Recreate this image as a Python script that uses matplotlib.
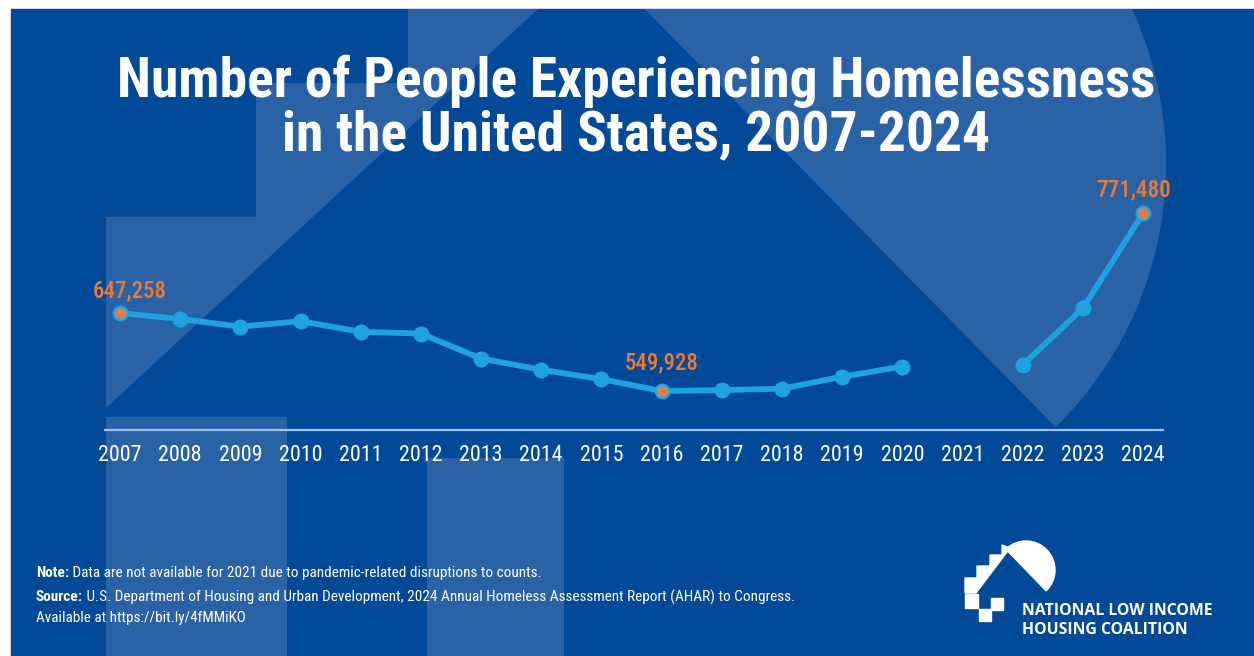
import numpy as np
import matplotlib
matplotlib.use("Agg")
import matplotlib.pyplot as plt
from matplotlib import font_manager
from matplotlib.patches import Rectangle, Polygon, Wedge

# data (AHAR point-in-time counts); 2021 not available
years = [2007, 2008, 2009, 2010, 2011, 2012, 2013, 2014, 2015,
         2016, 2017, 2018, 2019, 2020, 2021, 2022, 2023, 2024]
people = [647258, 639784, 630227, 637077, 623788, 621553, 590364, 576450, 564708,
          549928, 550996, 552830, 567715, 580466, None, 582462, 653104, 771480]
highlight_years = [2007, 2016, 2024]
label_offsets = [(7, 16), (0, 20), (-7, 17)]

title = "Number of People Experiencing Homelessness\nin the United States, 2007-2024"
note_bold = "Note:"
note_text = " Data are not available for 2021 due to pandemic-related disruptions to counts."
source_bold = "Source:"
source_text = (" U.S. Department of Housing and Urban Development, 2024 Annual Homeless "
               "Assessment Report (AHAR) to Congress.")
available_text = "Available at https://bit.ly/4fMMiKO"
logo_lines = ["NATIONAL LOW INCOME", "HOUSING COALITION"]

BG = "#024a98"
LIGHT = "#2a62a6"
LINE = "#1ea2e0"
ORANGE = "#ec7a34"
AXIS = "#9cc3ea"

installed = {f.name for f in font_manager.fontManager.ttflist}
narrow = next((f for f in ["Liberation Sans Narrow", "Roboto Condensed",
                           "Open Sans Condensed", "Roboto"] if f in installed), "DejaVu Sans")
NARROW = [narrow, "DejaVu Sans"]

W, H = 1254, 656
fig = plt.figure(figsize=(W / 100, H / 100), dpi=100, facecolor="white")
renderer = fig.canvas.get_renderer()


def fit(texts, width):
    # scale font size of a group of texts so their summed width matches the reference
    total = sum(t.get_window_extent(renderer).width for t in texts)
    for t in texts:
        t.set_fontsize(t.get_fontsize() * width / total)


# background layer in pixel coordinates
bg = fig.add_axes([0, 0, 1, 1])
bg.set_xlim(0, W)
bg.set_ylim(H, 0)
bg.axis("off")
panel = Rectangle((11, 9), W - 11, H - 9, color=BG, zorder=0)
bg.add_patch(panel)

shapes = [
    Polygon([(106, 408), (106, 217), (256, 217), (256, 83), (408, 83),
             (408, 9), (538, 9)], closed=True),
    Rectangle((106, 417), 181, H - 417),
    Rectangle((427, 458), 137, H - 458),
    Wedge((797, 164), 369, 225.5, 405.5),
]
for s in shapes:
    s.set_facecolor(LIGHT)
    s.set_edgecolor("none")
    s.set_zorder(1)
    bg.add_patch(s)
    s.set_clip_path(panel)

# logo
stairs = Polygon([(965, 593), (965, 578), (977, 578), (977, 566), (990, 566),
                  (990, 555), (1002, 555), (1002, 545), (1010, 548), (976, 593)],
                 closed=True, color="white", zorder=2)
bg.add_patch(stairs)
bg.add_patch(Wedge((1026, 570), 29, 226, 406, color="white", zorder=2))
for (x0, y0, w, h) in [(965, 594, 13, 14), (991, 598, 12, 12), (979, 609, 12, 12)]:
    bg.add_patch(Rectangle((x0, y0), w, h, color="white", zorder=2))
for y, line in zip([611, 630], logo_lines):
    t = bg.text(1022, y, line, color="white", fontsize=10.5, fontweight="bold",
                family=["Open Sans", "DejaVu Sans"], va="center", ha="left")
    fit([t], 193 if line == logo_lines[0] else 168)

# title
tt = bg.text(636, 108, title, color="white", fontsize=34, fontweight="bold",
             family=NARROW, ha="center", va="center", linespacing=1.05)
fit([tt], 1038)

# footer
for y, b, t, w in [(573, note_bold, note_text, 510), (597, source_bold, source_text, 762)]:
    tb = bg.text(36, y, b, color="white", fontsize=10.5, fontweight="bold",
                 family=NARROW, va="center", ha="left")
    tr = bg.text(36, y, t, color="white", fontsize=10.5,
                 family=NARROW, va="center", ha="left")
    fit([tb, tr], w)
    tr.set_x(36 + tb.get_window_extent(renderer).width)
ta = bg.text(36, 618, available_text, color="white", fontsize=10.5,
             family=NARROW, va="center", ha="left")
fit([ta], 210)

# chart axes: plot area from x=105..1163 px, y=180..430 px
ax = fig.add_axes([105 / W, 1 - 430 / H, (1163 - 105) / W, (430 - 180) / H])
ax.patch.set_alpha(0)
px_per_year = (1143 - 120) / (years[-1] - years[0])
val_per_px = (people[0] - people[9]) / (391 - 313)
ax.set_xlim(years[0] - (120 - 105) / px_per_year, years[-1] + (1163 - 1143) / px_per_year)
ax.set_ylim(people[0] - (430 - 313) * val_per_px, people[0] + (313 - 180) * val_per_px)

vals = np.array([np.nan if v is None else v for v in people], dtype=float)
ax.plot(years, vals, color=LINE, lw=4.2, marker="o", markersize=10.5,
        markerfacecolor=LINE, markeredgecolor=LINE, zorder=3, solid_capstyle="round")
for yr, off in zip(highlight_years, label_offsets):
    v = vals[years.index(yr)]
    ax.plot([yr], [v], "o", color=ORANGE, markersize=8, markeredgecolor="#5ea0cf",
            markeredgewidth=1.0, zorder=4)
    lab = ax.annotate(f"{int(v):,}", (yr, v), xytext=off,
                      textcoords="offset points", ha="center", va="center",
                      color=ORANGE, fontsize=15, fontweight="medium", family=NARROW)
    fit([lab], 74)

for side in ["top", "right", "left"]:
    ax.spines[side].set_visible(False)
ax.spines["bottom"].set_color(AXIS)
ax.spines["bottom"].set_linewidth(1.6)
ax.set_yticks([])
ax.set_xticks(years)
ax.set_xticklabels([str(y) for y in years], color="white", fontsize=14,
                   family=NARROW)
ax.tick_params(axis="x", length=0, pad=11)
fig.canvas.draw()
tl = ax.get_xticklabels()[0]
scale = 44 / tl.get_window_extent(renderer).width
ax.tick_params(axis="x", labelsize=14 * scale)

fig.savefig("out.png", dpi=100, facecolor=fig.get_facecolor())
